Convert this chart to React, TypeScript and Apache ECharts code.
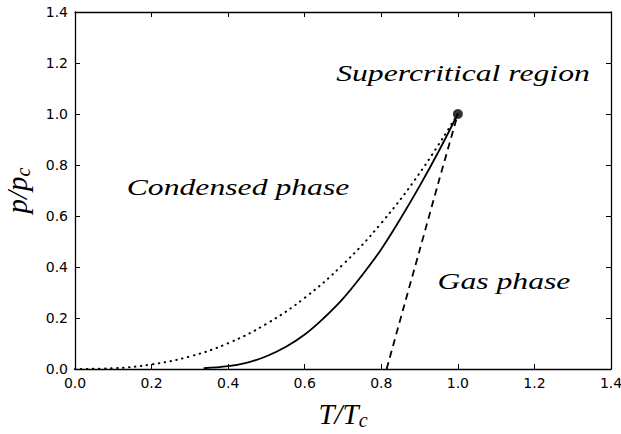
import React, { useEffect, useRef } from "react";
import * as echarts from "echarts";

// Solid curve (vapour pressure)
const solidT = [0.336, 0.4, 0.45, 0.5, 0.55, 0.6, 0.65, 0.7, 0.75, 0.8, 0.85, 0.9, 0.95, 1.0];
const solidP = [0.003, 0.011, 0.025, 0.05, 0.086, 0.135, 0.2, 0.276, 0.368, 0.47, 0.589, 0.717, 0.854, 1.0];

// Dotted curve
const dottedT = [0, 0.1, 0.2, 0.3, 0.4, 0.5, 0.6, 0.7, 0.8, 0.9, 1.0];
const dottedP = [0, 0.003, 0.018, 0.049, 0.101, 0.177, 0.279, 0.41, 0.572, 0.768, 1.0];

// Dashed line
const dashedT = [0.814, 0.86, 0.9, 0.95, 1.0];
const dashedP = [0, 0.25, 0.465, 0.735, 1.0];

// Critical point
const criticalPoint = [1.0, 1.0];

// Region labels
const regionLabels = ["Supercritical region", "Condensed phase", "Gas phase"];

const axisMin = 0;
const axisMax = 1.4;
const axisStep = 0.2;

const zip = (a: number[], b: number[]) => a.map((v, i) => [v, b[i]]);

const SERIF = "'Liberation Serif', 'Times New Roman', serif";

export default function App() {
  const ref = useRef<HTMLDivElement>(null);
  useEffect(() => {
    if (!ref.current) return;
    const chart = echarts.init(ref.current, undefined, { renderer: "svg" });
    const tickLabel = {
      color: "#000",
      fontFamily: "DejaVu Sans",
      fontSize: 14,
      formatter: (v: number) => v.toFixed(1),
    };
    const axisLine = { show: true, onZero: false, lineStyle: { color: "#000", width: 1.3 } };
    const axisTick = { show: true, inside: true, length: 5, lineStyle: { color: "#000", width: 1 } };
    const labelFont = { fontFamily: SERIF, fontStyle: "italic" as const, color: "#000" };
    const regionText = (text: string, x: number, y: number) => ({
      type: "text",
      x,
      y,
      scaleX: 1.32,
      style: {
        text,
        font: "italic normal 24px " + SERIF,
        fill: "#000",
        align: "center",
        verticalAlign: "middle",
      },
    });
    chart.setOption({
      animation: false,
      backgroundColor: "#fff",
      grid: { left: 75, right: 10, top: 12, bottom: 65, containLabel: false, outerBoundsMode: "none" },
      xAxis: [
        {
          type: "value",
          min: axisMin,
          max: axisMax,
          interval: axisStep,
          position: "bottom",
          axisLine,
          axisTick,
          splitLine: { show: false },
          axisLabel: { ...tickLabel, margin: 7 },
          name: "{a|T/T}{s|c}",
          nameLocation: "middle",
          nameGap: 29,
          nameTextStyle: {
            rich: {
              a: { ...labelFont, fontSize: 29 },
              s: { ...labelFont, fontSize: 20, verticalAlign: "bottom", padding: [12, 0, 0, 0] },
            },
          },
        },
        {
          type: "value",
          min: axisMin,
          max: axisMax,
          interval: axisStep,
          position: "top",
          axisLine,
          axisTick,
          splitLine: { show: false },
          axisLabel: { show: false },
        },
      ],
      yAxis: [
        {
          type: "value",
          min: axisMin,
          max: axisMax,
          interval: axisStep,
          position: "left",
          axisLine,
          axisTick,
          splitLine: { show: false },
          axisLabel: { ...tickLabel, margin: 7 },
          name: "{a|p/p}{s|c}",
          nameLocation: "middle",
          nameGap: 42,
          nameRotate: 90,
          nameTextStyle: {
            rich: {
              a: { ...labelFont, fontSize: 29 },
              s: { ...labelFont, fontSize: 20, verticalAlign: "bottom", padding: [12, 0, 0, 0] },
            },
          },
        },
        {
          type: "value",
          min: axisMin,
          max: axisMax,
          interval: axisStep,
          position: "right",
          axisLine,
          axisTick,
          splitLine: { show: false },
          axisLabel: { show: false },
        },
      ],
      series: [
        {
          type: "line",
          data: zip(dottedT, dottedP),
          smooth: 0.4,
          showSymbol: false,
          lineStyle: { color: "#000", width: 2, type: [0.5, 5.5], cap: "round" },
        },
        {
          type: "line",
          data: zip(solidT, solidP),
          smooth: 0.4,
          showSymbol: false,
          lineStyle: { color: "#000", width: 1.8 },
        },
        {
          type: "line",
          data: zip(dashedT, dashedP),
          smooth: 0.3,
          showSymbol: false,
          lineStyle: { color: "#000", width: 1.8, type: [7, 5] },
        },
        {
          type: "scatter",
          data: [criticalPoint],
          symbol: "circle",
          symbolSize: 10,
          itemStyle: { color: "#000" },
        },
      ],
      graphic: [
        regionText(regionLabels[0], 463, 73),
        regionText(regionLabels[1], 238, 187),
        regionText(regionLabels[2], 504, 281),
      ],
    });
    return () => chart.dispose();
  }, []);
  return (
    <div
      ref={ref}
      style={{ position: "fixed", left: 0, top: 0, width: 621, height: 434, background: "#fff" }}
    />
  );
}
